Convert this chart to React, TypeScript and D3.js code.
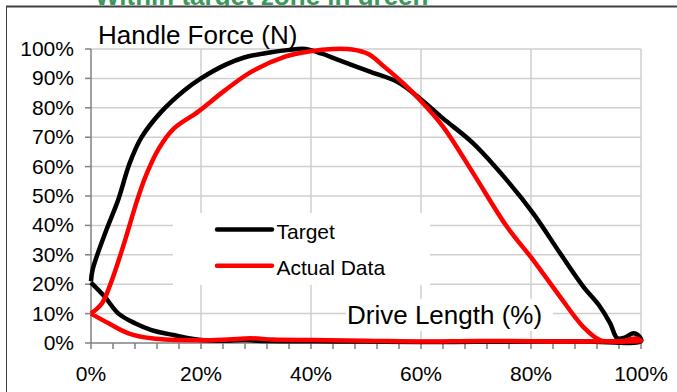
import React from "react";
import * as d3 from "d3";

const W = 677;
const H = 392;

// Target loop (drive length %, handle force %)
const targetDrive = [0, 0.3, 2.5, 5, 7, 9.2, 12.8, 17, 20, 24.4, 28, 32.5, 36, 39, 42, 44.7, 50.7, 55.6, 59.8, 64, 69.5, 75.6, 80.4, 85.3, 89.5, 92.3, 94.4, 95.7, 97, 98.6, 99.8, 100, 90, 80, 70, 60, 50, 40, 30, 28, 25, 20, 15, 11, 8, 5, 2.5, 0];
const targetForce = [21, 25, 37, 49, 61, 70, 78.7, 86, 90, 94.6, 97.2, 98.8, 99.7, 100, 98.4, 96.5, 92.3, 88.9, 83.2, 76.4, 67.9, 55.4, 44.1, 30.5, 19.2, 13, 6.7, 1.6, 1.8, 3.3, 2, 0.6, 0.5, 0.5, 0.4, 0.3, 0.5, 0.6, 0.8, 1, 0.8, 1, 2.7, 4.4, 6.7, 10, 15.7, 20.5];

// Actual data loop
const actualDrive = [0, 2, 3.8, 6.2, 8.3, 10, 12.3, 15, 19.5, 24.4, 29.2, 35.3, 39.8, 44, 47.5, 50.5, 53.3, 56.8, 59.8, 64, 69.5, 75.6, 80.4, 85.3, 89.5, 92.5, 94, 97, 99, 100, 90, 80, 70, 60, 50, 40, 33, 29, 25, 19.5, 11, 6.8, 3.2, 0];
const actualForce = [10, 13.5, 21.4, 35, 48, 57, 66, 72.8, 78.7, 86, 92.3, 97.4, 99.2, 100, 99.8, 98.2, 94, 88.3, 82.7, 73.6, 57.7, 39.6, 28.2, 15.7, 5.5, 1, 0.6, 0.8, 1.5, 0.8, 0.5, 0.6, 0.7, 0.5, 0.8, 1, 1.2, 1.6, 1.2, 0.9, 1.6, 3.3, 6.7, 10];

const xTickLabels = [0, 20, 40, 60, 80, 100];
const xMinorTicks = d3.range(0, 101, 4);
const yTickLabels = [0, 10, 20, 30, 40, 50, 60, 70, 80, 90, 100];

const seriesNames = ["Target", "Actual Data"];
const seriesColors = ["#000000", "#ff0000"];

export default function App() {
  const x = d3.scaleLinear().domain([0, 100]).range([91, 641]);
  const y = d3.scaleLinear().domain([0, 100]).range([343, 49]);
  const line = d3
    .line<[number, number]>()
    .x((d) => x(d[0]))
    .y((d) => y(d[1]))
    .curve(d3.curveCatmullRom.alpha(0.5));

  const tPts = targetDrive.map((v, i) => [v, targetForce[i]] as [number, number]);
  const aPts = actualDrive.map((v, i) => [v, actualForce[i]] as [number, number]);
  const font = "'Liberation Sans', Arial, sans-serif";
  const grid = "#cfcfcf";
  const axis = "#808080";

  return (
    <svg
      width={W}
      height={H}
      style={{ position: "absolute", left: 0, top: 0, background: "#fff" }}
      fontFamily={font}
    >
      <defs>
        <clipPath id="topclip">
          <rect x={0} y={0} width={W} height={5.5} />
        </clipPath>
      </defs>
      <rect x={0} y={0} width={W} height={H} fill="#fff" />
      <text
        x={95}
        y={4.5}
        fontSize={26}
        fontWeight="bold"
        fill="#3a9a5c"
        clipPath="url(#topclip)"
      >
        Within target zone in green
      </text>
      <line x1={6} x2={W} y1={6.5} y2={6.5} stroke="#404040" strokeWidth={2} />
      <line x1={6.5} x2={6.5} y1={6} y2={H} stroke="#404040" strokeWidth={1} />

      {/* gridlines */}
      {yTickLabels.slice(1).map((t) => (
        <line key={"gy" + t} x1={x(0)} x2={x(100)} y1={y(t)} y2={y(t)} stroke={grid} strokeWidth={1.5} />
      ))}
      {xTickLabels.slice(1).map((t) => (
        <line key={"gx" + t} x1={x(t)} x2={x(t)} y1={y(0)} y2={y(100)} stroke={grid} strokeWidth={1.5} />
      ))}

      {/* axes */}
      <line x1={x(0)} x2={x(0)} y1={y(100)} y2={y(0)} stroke={axis} strokeWidth={1.5} />
      <line x1={x(0)} x2={x(100)} y1={y(0)} y2={y(0)} stroke={axis} strokeWidth={1.5} />
      {yTickLabels.map((t) => (
        <g key={"yt" + t}>
          <line x1={x(0) - 6} x2={x(0)} y1={y(t)} y2={y(t)} stroke={axis} strokeWidth={1.5} />
          <text x={74} y={y(t) + 7} textAnchor="end" fontSize={21} fill="#000">
            {t}%
          </text>
        </g>
      ))}
      {xMinorTicks.map((t) => (
        <line key={"xt" + t} x1={x(t)} x2={x(t)} y1={y(0)} y2={y(0) + 6} stroke={axis} strokeWidth={1.5} />
      ))}
      {xTickLabels.map((t) => (
        <text key={"xl" + t} x={x(t)} y={381} textAnchor="middle" fontSize={21} fill="#000">
          {t}%
        </text>
      ))}

      {/* legend box */}
      <rect x={173} y={213} width={257} height={72} fill="#fff" />
      {seriesNames.map((n, i) => (
        <g key={n}>
          <line
            x1={217}
            x2={272}
            y1={229.5 + i * 36.3}
            y2={229.5 + i * 36.3}
            stroke={seriesColors[i]}
            strokeWidth={4.5}
            strokeLinecap="round"
          />
          <text x={276.5} y={239.3 + i * 35.7} fontSize={21} fill="#000">
            {n}
          </text>
        </g>
      ))}

      {/* axis titles */}
      <rect x={346} y={299} width={207} height={32} fill="#fff" />
      <text x={347} y={324} fontSize={26} fill="#000">
        Drive Length (%)
      </text>
      <text x={98} y={44} fontSize={26} fill="#000">
        Handle Force (N)
      </text>

      {/* curves */}
      <path d={line(tPts) || ""} fill="none" stroke={seriesColors[0]} strokeWidth={4.5} strokeLinejoin="round" />
      <path d={line(aPts) || ""} fill="none" stroke={seriesColors[1]} strokeWidth={4.5} strokeLinejoin="round" />
    </svg>
  );
}
